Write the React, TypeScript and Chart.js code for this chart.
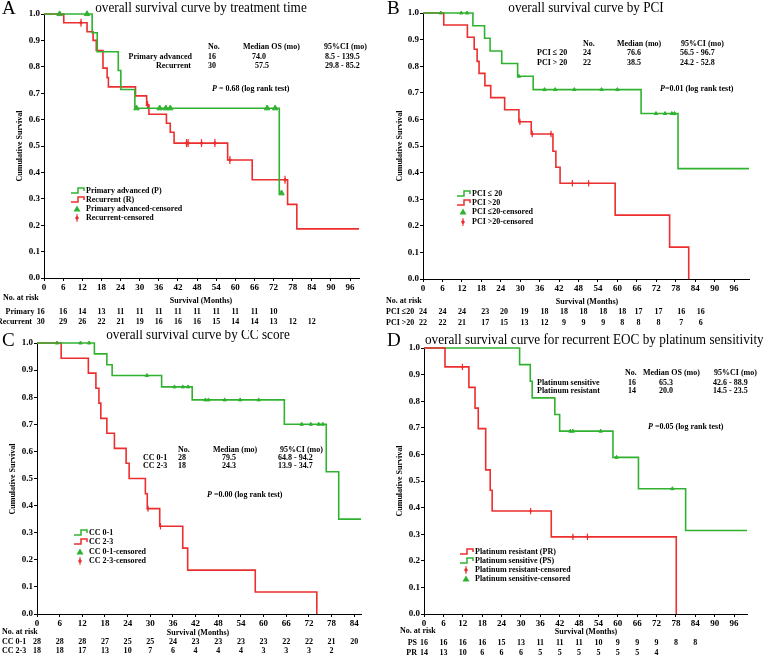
import React, { useEffect, useRef } from 'react';
import { Chart, registerables } from 'chart.js';
Chart.register(...registerables);

const GREEN = 'rgb(48,178,48)';
const RED = 'rgb(236,46,46)';
const FONT = '"Liberation Serif", "Times New Roman", serif';

const Y_TICKS = [0, 0.1, 0.2, 0.3, 0.4, 0.5, 0.6, 0.7, 0.8, 0.9, 1.0];
const X_TICKS_96 = [0, 6, 12, 18, 24, 30, 36, 42, 48, 54, 60, 66, 72, 78, 84, 90, 96];
const X_TICKS_84 = [0, 6, 12, 18, 24, 30, 36, 42, 48, 54, 60, 66, 72, 78, 84];
const RISK_COLS = [0, 6, 12, 18, 24, 30, 36, 42, 48, 54, 60, 66, 72, 78, 84];

// ---------- Panel A: treatment time ----------
const A_P_TIMES = [0, 15.1, 16.7, 23.3, 24.1, 28.5, 73.8];
const A_P_SURV = [1, 0.929, 0.857, 0.786, 0.714, 0.643, 0.321];
const A_P_END = 74.5;
const A_P_CENS = [4.9, 13.5, 29.0, 36.3, 38.2, 39.6, 70.0, 72.5, 74.5];
const A_R_TIMES = [0, 6.2, 13.5, 15.4, 16.4, 18.5, 19.8, 20.2, 28.7, 32.2, 32.9, 38.4, 39.6, 40.8, 57.6, 65.3, 76.4, 79.3];
const A_R_SURV = [1, 0.967, 0.933, 0.9, 0.862, 0.795, 0.759, 0.724, 0.69, 0.655, 0.62, 0.586, 0.552, 0.511, 0.447, 0.372, 0.279, 0.186];
const A_R_END = 98.8;
const A_R_CENS = [11.6, 32.5, 44.7, 45.2, 49.4, 53.6, 58.3, 75.6];
const A_RISK_P = [16, 16, 14, 13, 11, 11, 11, 11, 11, 11, 11, 11, 10];
const A_RISK_R = [30, 29, 26, 22, 21, 19, 16, 16, 16, 15, 14, 14, 13, 12, 12];
const A_COLS = [-1, 6, 12, 18, 24, 30, 36, 42, 48, 54, 60, 66, 72, 78, 84];

// ---------- Panel B: PCI ----------
const B_G_TIMES = [0, 15.4, 19.0, 20.7, 24.3, 29.2, 34.0, 67.3, 78.7];
const B_G_SURV = [1, 0.952, 0.905, 0.857, 0.81, 0.762, 0.712, 0.622, 0.415];
const B_G_END = 100.6;
const B_G_CENS = [5.5, 11.8, 13.6, 29.6, 37.5, 40.8, 46.7, 55.1, 60.0, 71.9, 74.7, 76.8, 77.6];
const B_R_TIMES = [0, 6.4, 13.7, 15.8, 16.7, 17.3, 19.1, 20.9, 25.2, 29.6, 33.4, 40.1, 41.0, 42.3, 59.3, 76.1, 82.0];
const B_R_SURV = [1, 0.955, 0.909, 0.864, 0.818, 0.773, 0.727, 0.682, 0.636, 0.591, 0.545, 0.48, 0.42, 0.36, 0.24, 0.12, 0];
const B_R_END = 82.0;
const B_R_CENS = [29.9, 33.7, 39.5, 46.1, 51.1];
const B_RISK_G = [24, 24, 24, 23, 20, 19, 18, 18, 18, 18, 18, 17, 17, 16, 16];
const B_RISK_R = [22, 22, 21, 17, 15, 13, 12, 9, 9, 9, 8, 8, 8, 7, 6];
const B_COLS = [0, 6, 12, 19.2, 25, 31.3, 37.5, 43.5, 49.5, 55.6, 61.5, 66.5, 72.7, 79.7, 85.7];

// ---------- Panel C: CC score ----------
const C_G_TIMES = [0, 15.2, 18.5, 19.9, 33.0, 41.1, 65.5, 76.6, 79.9];
const C_G_SURV = [1, 0.96, 0.92, 0.88, 0.838, 0.79, 0.70, 0.525, 0.35];
const C_G_END = 85.8;
const C_G_CENS = [5.3, 11.5, 13.8, 29.1, 36.4, 38.6, 40.0, 44.6, 45.4, 49.7, 53.8, 58.7, 70.1, 72.5, 74.6, 75.7];
const C_R_TIMES = [0, 6.4, 13.6, 15.6, 16.4, 16.9, 18.5, 20.5, 23.6, 24.4, 28.7, 29.2, 32.5, 38.6, 39.9, 57.8, 74.1];
const C_R_SURV = [1, 0.944, 0.889, 0.833, 0.778, 0.722, 0.667, 0.611, 0.556, 0.5, 0.444, 0.389, 0.324, 0.243, 0.162, 0.081, 0];
const C_R_END = 74.1;
const C_R_CENS = [29.4, 32.7];
const C_RISK_G = [28, 28, 28, 27, 25, 25, 24, 23, 23, 23, 23, 22, 22, 21, 20];
const C_RISK_R = [18, 18, 17, 13, 10, 7, 6, 4, 4, 4, 3, 3, 3, 2];

// ---------- Panel D: platinum sensitivity ----------
const D_R_TIMES = [0, 6.5, 13.9, 15.8, 16.8, 19.1, 20.5, 21.1, 39.4, 78.1];
const D_R_SURV = [1, 0.929, 0.852, 0.774, 0.697, 0.542, 0.465, 0.387, 0.29, 0];
const D_R_END = 78.1;
const D_R_CENS = [11.9, 33.0, 46.1, 50.6];
const D_G_TIMES = [0, 29.6, 32.9, 33.5, 40.5, 42.0, 58.5, 66.4, 81.0];
const D_G_SURV = [1, 0.9375, 0.875, 0.8125, 0.75, 0.6875, 0.589, 0.471, 0.314];
const D_G_END = 100.0;
const D_G_CENS = [45.3, 46.1, 54.7, 59.6, 76.9];
const D_RISK_PS = [16, 16, 16, 16, 15, 13, 11, 11, 11, 10, 9, 9, 9, 8, 8];
const D_RISK_PR = [14, 13, 10, 6, 6, 6, 5, 5, 5, 5, 5, 5, 4];

type Curve = { times: number[]; surv: number[]; end: number; cens: number[]; color: string; censStyle: 'tri' | 'dia'; censSize: number };
type Txt = { s: string; x: number; y: number; size?: number; bold?: boolean; align?: CanvasTextAlign; sx?: number };
type Spec = {
  left: number; top: number; w: number; h: number;
  area: { l: number; t: number; r: number; b: number };
  xmax: number; xticks: number[];
  curves: Curve[];
  texts: Txt[];
  pline: { x: number; y: number; rest: string };
  ytitle: { x: number; y: number };
  legend: { x: number; tx: number; ys: number[]; items: { kind: 'line' | 'tri' | 'dia'; color: string; label: string }[] };
  risk: { rows: { label: string; lx: number; align: CanvasTextAlign; y: number; vals: number[] }[]; cols: number[] };
};

function levelAt(times: number[], surv: number[], t: number) {
  let v = surv[0];
  for (let i = 0; i < times.length; i++) if (times[i] <= t) v = surv[i];
  return v;
}

function drawText(ctx: CanvasRenderingContext2D, t: Txt) {
  ctx.save();
  ctx.translate(t.x, t.y);
  ctx.scale(t.sx ?? 0.89, 1);
  ctx.font = `${t.bold === false ? '' : 'bold '}${t.size ?? 9}px ${FONT}`;
  ctx.fillStyle = '#000';
  ctx.textAlign = t.align ?? 'left';
  ctx.textBaseline = 'middle';
  ctx.fillText(t.s, 0, 0);
  ctx.restore();
}

function makeOverlay(spec: Spec) {
  return {
    id: 'overlay',
    afterDraw(chart: any) {
      const ctx: CanvasRenderingContext2D = chart.ctx;
      const xs = chart.scales.x;
      ctx.save();
      for (const t of spec.texts) drawText(ctx, t);
      // P line
      ctx.save();
      ctx.translate(spec.pline.x, spec.pline.y);
      ctx.scale(0.89, 1);
      ctx.fillStyle = '#000';
      ctx.textBaseline = 'middle';
      ctx.textAlign = 'left';
      ctx.font = `italic bold 9px ${FONT}`;
      ctx.fillText('P', 0, 0);
      const pw = ctx.measureText('P').width;
      ctx.font = `bold 9px ${FONT}`;
      ctx.fillText(spec.pline.rest, pw, 0);
      ctx.restore();
      // y title
      ctx.save();
      ctx.translate(spec.ytitle.x, spec.ytitle.y);
      ctx.rotate(-Math.PI / 2);
      ctx.scale(0.89, 1);
      ctx.font = `bold 9px ${FONT}`;
      ctx.fillStyle = '#000';
      ctx.textAlign = 'center';
      ctx.textBaseline = 'middle';
      ctx.fillText('Cumulative Survival', 0, 0);
      ctx.restore();
      // legend
      spec.legend.items.forEach((it, i) => {
        const y = spec.legend.ys[i];
        const x = spec.legend.x;
        ctx.save();
        ctx.strokeStyle = it.color;
        ctx.fillStyle = it.color;
        ctx.lineWidth = 1.5;
        if (it.kind === 'line') {
          ctx.beginPath();
          ctx.moveTo(x, y + 2);
          ctx.lineTo(x + 7, y + 2);
          ctx.lineTo(x + 7, y - 3);
          ctx.lineTo(x + 13, y - 3);
          ctx.lineTo(x + 13, y);
          ctx.stroke();
        } else if (it.kind === 'tri') {
          ctx.beginPath();
          ctx.moveTo(x + 6, y - 3.5);
          ctx.lineTo(x + 9.5, y + 2.5);
          ctx.lineTo(x + 2.5, y + 2.5);
          ctx.closePath();
          ctx.fill();
        } else {
          ctx.beginPath();
          ctx.moveTo(x + 6, y - 2.5);
          ctx.lineTo(x + 8, y);
          ctx.lineTo(x + 6, y + 2.5);
          ctx.lineTo(x + 4, y);
          ctx.closePath();
          ctx.fill();
          ctx.lineWidth = 1;
          ctx.beginPath();
          ctx.moveTo(x + 6, y - 4);
          ctx.lineTo(x + 6, y + 4);
          ctx.stroke();
        }
        ctx.restore();
        drawText(ctx, { s: it.label, x: spec.legend.tx, y });
      });
      // number at risk
      for (const row of spec.risk.rows) {
        drawText(ctx, { s: row.label, x: row.lx, y: row.y, align: row.align });
        row.vals.forEach((v, i) => {
          const px = xs.getPixelForValue(spec.risk.cols[i]);
          drawText(ctx, { s: String(v), x: px, y: row.y, align: 'center' });
        });
      }
      ctx.restore();
    },
  };
}

function buildConfig(spec: Spec): any {
  const datasets: any[] = [];
  for (const c of spec.curves) {
    const pts = c.times.map((t, i) => ({ x: t, y: c.surv[i] }));
    if (c.end > c.times[c.times.length - 1]) pts.push({ x: c.end, y: c.surv[c.surv.length - 1] });
    datasets.push({
      data: pts, borderColor: c.color, borderWidth: 1.6, pointRadius: 0, stepped: 'before', fill: false, clip: false,
    });
  }
  for (const c of spec.curves) {
    const pts = c.cens.map((t) => ({ x: t, y: levelAt(c.times, c.surv, t) }));
    if (c.censStyle === 'tri') {
      datasets.push({ data: pts, showLine: false, pointStyle: 'triangle', pointRadius: c.censSize, backgroundColor: c.color, borderColor: c.color, borderWidth: 1, clip: false });
    } else {
      datasets.push({ data: pts, showLine: false, pointStyle: 'line', rotation: 90, pointRadius: c.censSize + 1, borderColor: c.color, borderWidth: 1.2, clip: false });
      datasets.push({ data: pts, showLine: false, pointStyle: 'rectRot', pointRadius: c.censSize * 0.6, backgroundColor: c.color, borderColor: c.color, borderWidth: 0.5, clip: false });
    }
  }
  const yW = 30, xH = 12;
  const tickFont = { family: FONT, size: 9, weight: 'bold' };
  return {
    type: 'line',
    data: { datasets },
    options: {
      responsive: false, animation: false, devicePixelRatio: 1,
      events: [],
      layout: { padding: { left: spec.area.l - yW, top: spec.area.t, right: spec.w - spec.area.r, bottom: spec.h - spec.area.b - xH } },
      plugins: { legend: { display: false }, tooltip: { enabled: false }, title: { display: false } },
      scales: {
        x: {
          type: 'linear', min: 0, max: spec.xmax,
          afterBuildTicks: (s: any) => { s.ticks = spec.xticks.map((v) => ({ value: v })); },
          afterFit: (s: any) => { s.height = xH; },
          grid: { display: true, drawOnChartArea: false, drawTicks: true, tickLength: 3, color: '#000', lineWidth: 1 },
          border: { display: true, color: '#000', width: 1 },
          ticks: { font: tickFont, color: '#000', padding: 1, maxRotation: 0, autoSkip: false, callback: (v: any) => String(v) },
        },
        y: {
          type: 'linear', min: 0, max: 1,
          afterBuildTicks: (s: any) => { s.ticks = Y_TICKS.map((v) => ({ value: v })); },
          afterFit: (s: any) => { s.width = yW; },
          grid: { display: true, drawOnChartArea: false, drawTicks: true, tickLength: 3, color: '#000', lineWidth: 1 },
          border: { display: true, color: '#000', width: 1 },
          ticks: { font: tickFont, color: '#000', padding: 1, callback: (v: any) => Number(v).toFixed(1) },
        },
      },
    },
    plugins: [makeOverlay(spec)],
  };
}

const SPECS: Spec[] = [
  {
    left: 0, top: 0, w: 380, h: 330,
    area: { l: 44, t: 14, r: 359, b: 278 }, xmax: 98.8, xticks: X_TICKS_96,
    curves: [
      { times: A_P_TIMES, surv: A_P_SURV, end: A_P_END, cens: A_P_CENS, color: GREEN, censStyle: 'tri', censSize: 3.2 },
      { times: A_R_TIMES, surv: A_R_SURV, end: A_R_END, cens: A_R_CENS, color: RED, censStyle: 'dia', censSize: 3 },
    ],
    texts: [
      { s: 'A', x: 2, y: 9, size: 19, bold: false, sx: 1 },
      { s: 'overall survival curve by treatment time', x: 201, y: 8, size: 15, bold: false, align: 'center', sx: 0.88 },
      { s: 'No.', x: 208, y: 47 }, { s: 'Median OS (mo)', x: 243, y: 47 }, { s: '95%CI (mo)', x: 324, y: 47 },
      { s: 'Primary advanced', x: 192, y: 56.5, align: 'right' }, { s: '16', x: 208, y: 56.5 }, { s: '74.0', x: 252, y: 56.5 }, { s: '8.5 - 139.5', x: 325, y: 56.5 },
      { s: 'Recurrent', x: 191, y: 66, align: 'right' }, { s: '30', x: 208, y: 66 }, { s: '57.5', x: 255, y: 66 }, { s: '29.8 - 85.2', x: 325, y: 66 },
      { s: 'No. at risk', x: 3, y: 298 },
      { s: 'Survival (Months)', x: 201, y: 301, align: 'center' },
    ],
    pline: { x: 212, y: 89, rest: ' = 0.68 (log rank test)' },
    ytitle: { x: 20, y: 146 },
    legend: {
      x: 71, tx: 86, ys: [191, 200, 209, 218],
      items: [
        { kind: 'line', color: GREEN, label: 'Primary advanced (P)' },
        { kind: 'line', color: RED, label: 'Recurrent (R)' },
        { kind: 'tri', color: GREEN, label: 'Primary advanced-censored' },
        { kind: 'dia', color: RED, label: 'Recurrent-censored' },
      ],
    },
    risk: {
      cols: A_COLS,
      rows: [
        { label: 'Primary', lx: 34.5, align: 'right', y: 311.5, vals: A_RISK_P },
        { label: 'Recurrent', lx: 32, align: 'right', y: 322, vals: A_RISK_R },
      ],
    },
  },
  {
    left: 380, top: 0, w: 383, h: 330,
    area: { l: 43, t: 13, r: 369, b: 279 }, xmax: 100.6, xticks: X_TICKS_96,
    curves: [
      { times: B_G_TIMES, surv: B_G_SURV, end: B_G_END, cens: B_G_CENS, color: GREEN, censStyle: 'tri', censSize: 2 },
      { times: B_R_TIMES, surv: B_R_SURV, end: B_R_END, cens: B_R_CENS, color: RED, censStyle: 'dia', censSize: 2.2 },
    ],
    texts: [
      { s: 'B', x: 7, y: 9, size: 19, bold: false, sx: 1 },
      { s: 'overall survival curve by PCI', x: 206, y: 8, size: 15, bold: false, align: 'center', sx: 0.88 },
      { s: 'No.', x: 203, y: 44 }, { s: 'Median (mo)', x: 237, y: 44 }, { s: '95%CI (mo)', x: 301, y: 44 },
      { s: 'PCI ≤ 20', x: 157, y: 53 }, { s: '24', x: 203, y: 53 }, { s: '76.6', x: 247, y: 53 }, { s: '56.5 - 96.7', x: 300, y: 53 },
      { s: 'PCI > 20', x: 157, y: 63 }, { s: '22', x: 203, y: 63 }, { s: '38.5', x: 247, y: 63 }, { s: '24.2 - 52.8', x: 300, y: 63 },
      { s: 'No. at risk', x: 6, y: 301 },
      { s: 'Survival (Months)', x: 207, y: 302, align: 'center' },
    ],
    pline: { x: 280, y: 89, rest: '=0.01 (log rank test)' },
    ytitle: { x: 20, y: 146 },
    legend: {
      x: 77, tx: 92, ys: [194, 203, 212, 222],
      items: [
        { kind: 'line', color: GREEN, label: 'PCI ≤ 20' },
        { kind: 'line', color: RED, label: 'PCI >20' },
        { kind: 'tri', color: GREEN, label: 'PCI ≤20-censored' },
        { kind: 'dia', color: RED, label: 'PCI >20-censored' },
      ],
    },
    risk: {
      cols: B_COLS,
      rows: [
        { label: 'PCI ≤20', lx: 6, align: 'left', y: 312, vals: B_RISK_G },
        { label: 'PCI >20', lx: 6, align: 'left', y: 323, vals: B_RISK_R },
      ],
    },
  },
  {
    left: 0, top: 330, w: 380, h: 328,
    area: { l: 37, t: 13, r: 361, b: 284 }, xmax: 85.8, xticks: X_TICKS_84,
    curves: [
      { times: C_G_TIMES, surv: C_G_SURV, end: C_G_END, cens: C_G_CENS, color: GREEN, censStyle: 'tri', censSize: 2 },
      { times: C_R_TIMES, surv: C_R_SURV, end: C_R_END, cens: C_R_CENS, color: RED, censStyle: 'dia', censSize: 2.2 },
    ],
    texts: [
      { s: 'C', x: 2, y: 11, size: 19, bold: false, sx: 1 },
      { s: 'overall survival curve by CC score', x: 198, y: 5, size: 15, bold: false, align: 'center', sx: 0.88 },
      { s: 'No.', x: 178, y: 120 }, { s: 'Median (mo)', x: 213, y: 120 }, { s: '95%CI (mo)', x: 280, y: 120 },
      { s: 'CC 0-1', x: 143, y: 128 }, { s: '28', x: 178, y: 128 }, { s: '79.5', x: 222, y: 128 }, { s: '64.8 - 94.2', x: 278, y: 128 },
      { s: 'CC 2-3', x: 143, y: 135.5 }, { s: '18', x: 178, y: 135.5 }, { s: '24.3', x: 222, y: 135.5 }, { s: '13.9 - 34.7', x: 278, y: 135.5 },
      { s: 'No. at risk', x: 2, y: 302 },
      { s: 'Survival (Months)', x: 198, y: 303, align: 'center' },
    ],
    pline: { x: 207, y: 165, rest: ' =0.00 (log rank test)' },
    ytitle: { x: 13, y: 149 },
    legend: {
      x: 74, tx: 89, ys: [203, 212, 222, 231],
      items: [
        { kind: 'line', color: GREEN, label: 'CC 0-1' },
        { kind: 'line', color: RED, label: 'CC 2-3' },
        { kind: 'tri', color: GREEN, label: 'CC 0-1-censored' },
        { kind: 'dia', color: RED, label: 'CC 2-3-censored' },
      ],
    },
    risk: {
      cols: RISK_COLS,
      rows: [
        { label: 'CC 0-1', lx: 2, align: 'left', y: 312, vals: C_RISK_G },
        { label: 'CC 2-3', lx: 2, align: 'left', y: 321, vals: C_RISK_R },
      ],
    },
  },
  {
    left: 380, top: 330, w: 383, h: 328,
    area: { l: 44, t: 18, r: 367, b: 284 }, xmax: 100.0, xticks: X_TICKS_96,
    curves: [
      { times: D_R_TIMES, surv: D_R_SURV, end: D_R_END, cens: D_R_CENS, color: RED, censStyle: 'dia', censSize: 2.2 },
      { times: D_G_TIMES, surv: D_G_SURV, end: D_G_END, cens: D_G_CENS, color: GREEN, censStyle: 'tri', censSize: 2 },
    ],
    texts: [
      { s: 'D', x: 7, y: 11, size: 19, bold: false, sx: 1 },
      { s: 'overall survival curve for recurrent EOC by platinum sensitivity', x: 45, y: 10, size: 15, bold: false, align: 'left', sx: 0.88 },
      { s: 'No.', x: 245, y: 43 }, { s: 'Median OS (mo)', x: 263, y: 43 }, { s: '95%CI (mo)', x: 334, y: 43 },
      { s: 'Platinum sensitive', x: 157, y: 52.5 }, { s: '16', x: 248, y: 52.5 }, { s: '65.3', x: 279, y: 52.5 }, { s: '42.6 - 88.9', x: 333, y: 52.5 },
      { s: 'Platinum resistant', x: 157, y: 61 }, { s: '14', x: 248, y: 61 }, { s: '20.0', x: 279, y: 61 }, { s: '14.5 - 23.5', x: 333, y: 61 },
      { s: 'No. at risk', x: 20, y: 301 },
      { s: 'Survival (Months)', x: 206, y: 302, align: 'center' },
    ],
    pline: { x: 268, y: 97, rest: ' =0.05 (log rank test)' },
    ytitle: { x: 20, y: 151 },
    legend: {
      x: 80, tx: 95, ys: [222, 231, 240, 249],
      items: [
        { kind: 'line', color: RED, label: 'Platinum resistant (PR)' },
        { kind: 'line', color: GREEN, label: 'Platinum sensitive (PS)' },
        { kind: 'dia', color: RED, label: 'Platinum resistant-censored' },
        { kind: 'tri', color: GREEN, label: 'Platinum sensitive-censored' },
      ],
    },
    risk: {
      cols: RISK_COLS,
      rows: [
        { label: 'PS', lx: 37, align: 'right', y: 313, vals: D_RISK_PS },
        { label: 'PR', lx: 37, align: 'right', y: 323, vals: D_RISK_PR },
      ],
    },
  },
];

function Panel({ spec }: { spec: Spec }) {
  const ref = useRef<HTMLCanvasElement | null>(null);
  useEffect(() => {
    if (!ref.current) return;
    const chart = new Chart(ref.current, buildConfig(spec));
    return () => chart.destroy();
  }, [spec]);
  return (
    <canvas
      ref={ref}
      width={spec.w}
      height={spec.h}
      style={{ position: 'absolute', left: spec.left, top: spec.top, width: spec.w, height: spec.h }}
    />
  );
}

export default function App() {
  return (
    <div style={{ position: 'absolute', left: 0, top: 0, width: 763, height: 658, background: '#fff', overflow: 'hidden' }}>
      {SPECS.map((s, i) => (
        <Panel key={i} spec={s} />
      ))}
    </div>
  );
}
